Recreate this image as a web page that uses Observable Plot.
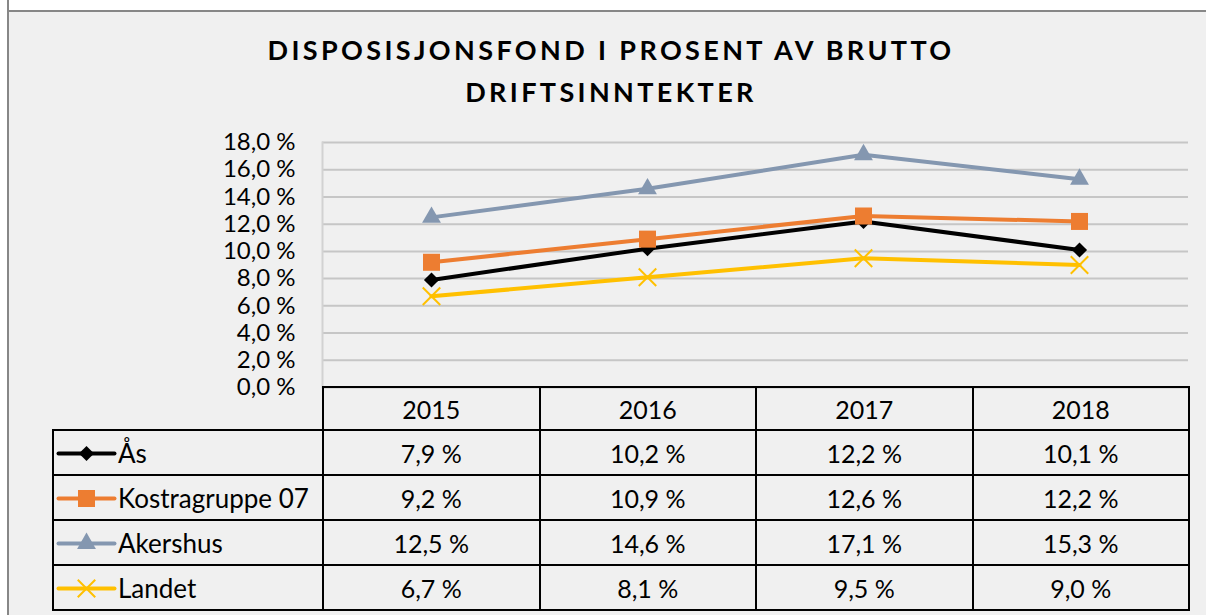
<!DOCTYPE html>
<html>
<head>
<meta charset="utf-8">
<script src="https://cdn.jsdelivr.net/npm/d3@7"></script>
<script src="https://cdn.jsdelivr.net/npm/@observablehq/plot@0.6"></script>
<style>
  html, body { margin: 0; background: #f0f0f0; overflow: hidden; }
  #root { position: relative; width: 1206px; height: 615px; overflow: hidden; background: #f0f0f0; font-family: Lato, "Open Sans", sans-serif; color: #000; }
  #topstrip { position: absolute; left: 0; top: 0; width: 1206px; height: 10px; background: #fff; border-bottom: 2px solid #878787; }
  #leftstrip { position: absolute; left: 0; top: 0; width: 7px; height: 615px; background: #fff; border-right: 2px solid #878787; }
  #title { position: absolute; left: 0; top: 29px; width: 1222px; text-align: center; font-weight: bold; font-size: 27px; line-height: 42px; white-space: nowrap; }
  #chart { position: absolute; left: 0; top: 0; }
  #tbl { position: absolute; left: 52px; top: 386px; border-collapse: collapse; font-size: 25px; table-layout: fixed; }
  #tbl td { border: 2px solid #000; text-align: center; padding: 0; height: 43px; box-sizing: border-box; }
  #tbl td.corner { border: none; }
  #tbl td.key { text-align: left; font-size: 26px; }
  .keywrap { display: flex; align-items: center; gap: 4px; padding-left: 4px; }
  .keywrap svg { display: block; }
</style>
</head>
<body>
<div id="root">
  <div id="topstrip"></div>
  <div id="leftstrip"></div>
  <div id="title"><div id="t1">DISPOSISJONSFOND I PROSENT AV BRUTTO</div><div id="t2">DRIFTSINNTEKTER</div></div>
  <div id="chart"></div>
  <table id="tbl"></table>
</div>
<script>
// ---- data ----
const years = ["2015", "2016", "2017", "2018"];
const seriesNames = ["Ås", "Kostragruppe 07", "Akershus", "Landet"];
const aas = [7.9, 10.2, 12.2, 10.1];
const kostra = [9.2, 10.9, 12.6, 12.2];
const akershus = [12.5, 14.6, 17.1, 15.3];
const landet = [6.7, 8.1, 9.5, 9.0];
const yTicks = [0, 2, 4, 6, 8, 10, 12, 14, 16, 18];
const colors = ["#000000", "#ED7D31", "#8497B0", "#FFC000"];
const symbols = ["diamond2", "square", "triangle", "times"];
const dotR = [6.8, 9.6, 7, 8];

const values = [aas, kostra, akershus, landet];
const rows = [];
seriesNames.forEach((s, i) => years.forEach((y, j) => rows.push({series: s, year: y, value: values[i][j]})));

const fmt = d => d.toFixed(1).replace(".", ",") + " %";

// title letter spacing to match reference width
(function () {
  const t1 = document.getElementById("t1");
  const span = document.createElement("span");
  span.style.cssText = "font: bold 27px Lato; white-space:nowrap; position:absolute; visibility:hidden";
  span.textContent = t1.textContent;
  document.body.appendChild(span);
  const w = span.getBoundingClientRect().width;
  span.remove();
  const n = t1.textContent.length;
  const ls = (687 - w) / n;
  document.getElementById("title").style.letterSpacing = ls + "px";
})();

// ---- main chart ----
const marks = [
  Plot.gridY(yTicks, {stroke: "#c6c6c6", strokeOpacity: 1, strokeWidth: 2}),
  Plot.frame({anchor: "left", stroke: "#d2d2d2", strokeWidth: 2}),
  Plot.axisY(yTicks, {tickSize: 0, tickPadding: 27, tickFormat: fmt, fontSize: 24, fill: "#000", label: null})
];
seriesNames.forEach((s, i) => {
  const d = rows.filter(r => r.series === s);
  marks.push(Plot.line(d, {x: "year", y: "value", stroke: "series", strokeWidth: 4, strokeLinejoin: "round"}));
  if (symbols[i] === "times") {
    marks.push(Plot.dot(d, {x: "year", y: "value", symbol: "series", stroke: "series", strokeWidth: 2, r: dotR[i]}));
  } else {
    marks.push(Plot.dot(d, {x: "year", y: "value", symbol: "series", fill: "series", stroke: "none", r: dotR[i]}));
  }
});

const chart = Plot.plot({
  width: 1206,
  height: 400,
  marginLeft: 322,
  marginRight: 18,
  marginTop: 142,
  marginBottom: 13,
  style: {background: "transparent", fontFamily: "Lato, sans-serif", color: "#000", overflow: "visible"},
  x: {type: "band", domain: years, padding: 0, axis: null},
  y: {domain: [0, 18], axis: null},
  color: {domain: seriesNames, range: colors},
  symbol: {domain: seriesNames, range: symbols},
  marks
});
document.getElementById("chart").appendChild(chart);

// ---- data table ----
const tbl = document.getElementById("tbl");
const colg = document.createElement("colgroup");
[270, 216.5, 216.5, 216.5, 216.5].forEach(w => { const c = document.createElement("col"); c.style.width = w + "px"; colg.appendChild(c); });
tbl.appendChild(colg);
const head = document.createElement("tr");
const corner = document.createElement("td"); corner.className = "corner"; head.appendChild(corner);
years.forEach(y => { const td = document.createElement("td"); td.textContent = y; head.appendChild(td); });
tbl.appendChild(head);
seriesNames.forEach((s, i) => {
  const tr = document.createElement("tr");
  const k = document.createElement("td"); k.className = "key";
  const wrap = document.createElement("div"); wrap.className = "keywrap";
  const key = Plot.plot({
    width: 56, height: 26, margin: 0,
    x: {domain: [0, 1], axis: null}, y: {domain: [0, 1], axis: null},
    style: {background: "transparent", overflow: "visible"},
    marks: [
      Plot.line([{a: 0, b: 0.5}, {a: 1, b: 0.5}], {x: "a", y: "b", stroke: colors[i], strokeWidth: 4}),
      symbols[i] === "times"
        ? Plot.dot([{a: 0.5, b: 0.5}], {x: "a", y: "b", symbol: "times", stroke: colors[i], strokeWidth: 2, r: dotR[i]})
        : Plot.dot([{a: 0.5, b: 0.5}], {x: "a", y: "b", symbol: symbols[i], fill: colors[i], r: dotR[i]})
    ]
  });
  wrap.appendChild(key);
  const lab = document.createElement("span"); lab.textContent = s; wrap.appendChild(lab);
  k.appendChild(wrap);
  tr.appendChild(k);
  values[i].forEach(v => { const td = document.createElement("td"); td.textContent = fmt(v); tr.appendChild(td); });
  tr.querySelectorAll("td").forEach(td => td.style.height = "45px");
  tbl.appendChild(tr);
});
</script>
</body>
</html>
